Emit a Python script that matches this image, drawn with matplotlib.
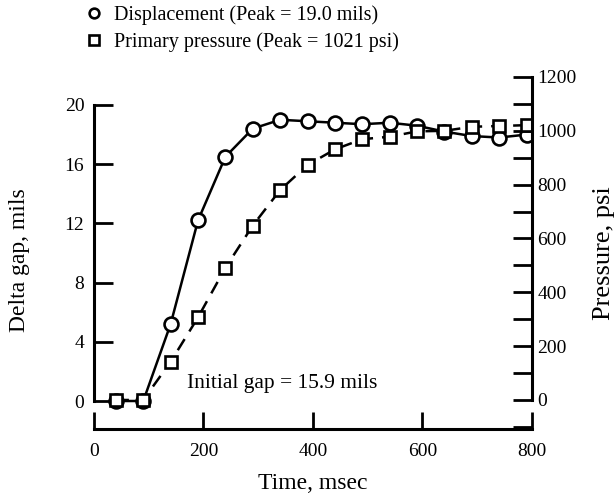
import matplotlib
matplotlib.use("Agg")
import matplotlib.pyplot as plt
from matplotlib.lines import Line2D
from matplotlib.ticker import MultipleLocator

# values
time_ms = [40, 90, 140, 190, 240, 290, 340, 390, 440, 490, 540, 590, 640, 690, 740, 790]
displacement = [0, 0, 5.2, 12.2, 16.5, 18.4, 19.0, 18.9, 18.8, 18.7, 18.8, 18.6, 18.2, 17.9, 17.8, 18.0]
pressure = [0, 0, 142, 307, 491, 648, 780, 873, 931, 969, 978, 998, 1000, 1015, 1018, 1021]

disp_label = "Displacement (Peak = 19.0 mils)"
pres_label = "Primary pressure (Peak = 1021 psi)"
note = "Initial gap = 15.9 mils"

plt.rcParams["font.family"] = ["Liberation Serif", "DejaVu Serif"]
plt.rcParams["font.size"] = 14

fig = plt.figure(figsize=(6.16, 4.98), dpi=100)
ax = fig.add_axes([0.1526, 0.1386, 0.711, 0.7068])
ax2 = ax.twinx()

lw = 1.8
ax.plot(time_ms, displacement, "-", color="black", lw=lw, marker="o",
        ms=10, mfc="white", mec="black", mew=1.9, zorder=3)
ax2.plot(time_ms, pressure, color="black", lw=lw, dashes=(5.2, 3.6), marker="s",
         ms=9, mfc="white", mec="black", mew=1.9, zorder=2)

ax.set_xlim(0, 800)
ax.set_ylim(-1.89, 21.89)
ax2.set_ylim(-107.7, 1200)

ax.set_xticks([0, 200, 400, 600, 800])
ax.set_yticks([0, 4, 8, 12, 16, 20])
ax2.yaxis.set_major_locator(MultipleLocator(200))
ax2.yaxis.set_minor_locator(MultipleLocator(100))

# open frame: each axis line only spans its own tick range
ax.spines["top"].set_visible(False)
ax.spines["right"].set_visible(False)
ax.spines["left"].set_bounds(0, 20)
ax.spines["bottom"].set_bounds(0, 800)
ax2.spines["top"].set_visible(False)
ax2.spines["left"].set_visible(False)
ax2.spines["bottom"].set_visible(False)
ax2.spines["right"].set_bounds(0, 1200)
for s in ("left", "bottom"):
    ax.spines[s].set_linewidth(2.2)
ax2.spines["right"].set_linewidth(2.2)

ax.tick_params(axis="x", direction="in", length=12, width=2, pad=10)
ax.tick_params(axis="y", direction="in", length=13.5, width=2, pad=7)
ax2.tick_params(axis="y", which="both", direction="in", length=13.5, width=2, pad=4)

ax.set_xlabel("Time, msec", fontsize=17)
ax.xaxis.label.set_va("center")
ax.xaxis.set_label_coords(0.5, -0.155)
ax.set_ylabel("Delta gap, mils", fontsize=17)
ax.yaxis.label.set_va("center")
ax.yaxis.set_label_coords(-0.17, 0.48)
ax2.set_ylabel("Pressure, psi", fontsize=19)
ax2.yaxis.label.set_va("center")
ax2.yaxis.set_label_coords(1.164, 0.50)

ax.text(170, 1.2, note, ha="left", va="center", fontsize=15.5)

handles = [
    Line2D([], [], ls="none", marker="o", ms=7, mfc="white", mec="black", mew=1.9),
    Line2D([], [], ls="none", marker="s", ms=7, mfc="white", mec="black", mew=1.9),
]
fig.legend(handles, [disp_label, pres_label], loc="upper left",
           bbox_to_anchor=(0.137, 0.99), frameon=False, handlelength=1.0,
           handletextpad=0.45, labelspacing=0.38, borderaxespad=0.0,
           borderpad=0.0, fontsize=14.5)

fig.savefig("out.png", dpi=100)
